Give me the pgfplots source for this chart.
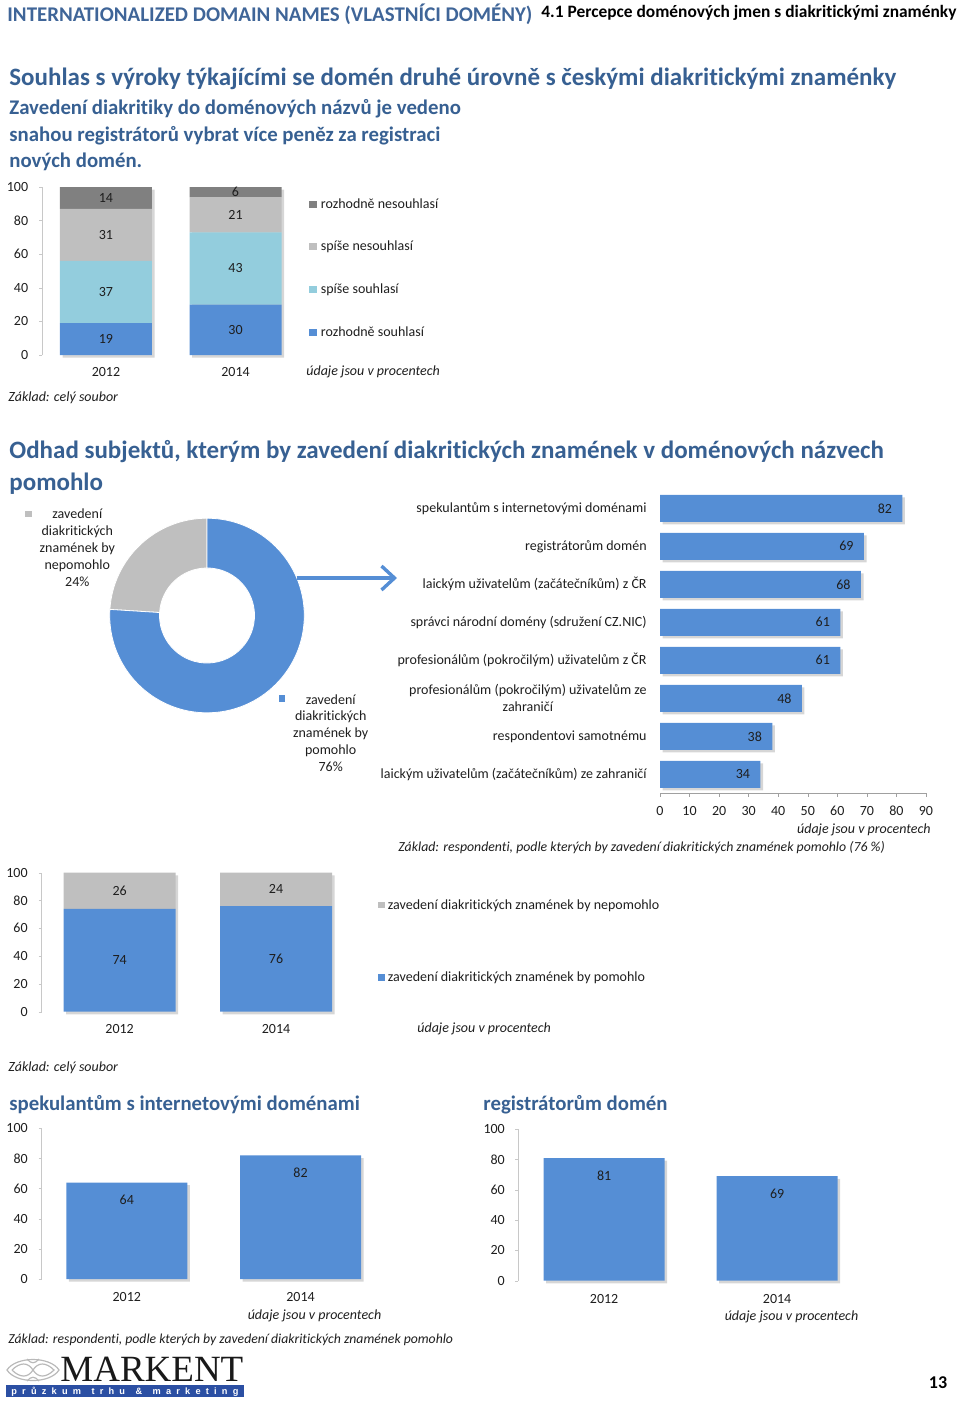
\documentclass[border=0pt]{standalone}
\usepackage{fontspec}
\setmainfont{Carlito}[Ligatures=NoCommon]
\newfontfamily\logoserif{Liberation Serif}
\newfontfamily\logosans{Liberation Sans}
\usepackage{pgfplots}
\pgfplotsset{compat=1.18}
\usepackage{pgfplotstable}
\usetikzlibrary{arrows.meta}

\definecolor{bblue}{HTML}{558ED5}
\definecolor{lblue}{HTML}{93CDDD}
\definecolor{lgray}{HTML}{BFBFBF}
\definecolor{dgray}{HTML}{808080}
\definecolor{tblue}{HTML}{376092}
\definecolor{hblue}{HTML}{3F6598}
\definecolor{axgray}{HTML}{C8C8C8}
\definecolor{axgray2}{HTML}{A0A0A0}
\definecolor{txt}{HTML}{1E1E1E}
\definecolor{logoblue}{HTML}{2B4FA3}

\newcommand\lab{\fontsize{7}{8.5}\selectfont}
\newcommand\labi{\fontsize{7}{8.5}\selectfont\itshape}

\pgfplotsset{
  pg/.style={scale only axis, /pgf/number format/assume math mode=true,
    tick label style={font=\lab, text=txt}, axis line style={-}},
  hid/.style={scale only axis, hide axis},
  shadowbar/.style={fill=black, draw=none, opacity=0.16, bar shift=0pt, xshift=1.3pt, yshift=-1.3pt, forget plot},
}

% ---------- data ----------
\pgfplotstableread{
x  rs  ss  sn  rn
0  19  37  31  14
1  30  43  21  6
}\tabA
\pgfplotstableread{
x  y     l
0  9.5   19
0  37.5  37
0  71.5  31
0  93.5  14
1  15    30
1  51.5  43
1  83.5  21
1  97    6
}\tabAl
\def\vPom{76}
\def\vNep{24}
\pgfplotstableread{
y  v
7  82
6  69
5  68
4  61
3  61
2  48
1  38
0  34
}\tabC
\pgfplotstableread{
x  pom  nep
0  74   26
1  76   24
}\tabD
\pgfplotstableread{
x  y   l
0  37  74
0  87  26
1  38  76
1  88  24
}\tabDl
\pgfplotstableread{
x  v
0  64
1  82
}\tabE
\pgfplotstableread{
x  v
0  81
1  69
}\tabF

\pgfmathsetmacro\aN{90+\vNep*3.6}
\pgfmathsetmacro\aNb{\aN-360}

\begin{document}
\begin{tikzpicture}[x=0.5pt,y=-0.5pt]
\useasboundingbox (0,0) rectangle (960,1403);

% ---------- header ----------
\node[anchor=base west, inner sep=0pt, font=\fontsize{10.45}{12}\selectfont\bfseries, text=hblue] at (7,21) {INTERNATIONALIZED DOMAIN NAMES (VLASTNÍCI DOMÉNY)};
\node[anchor=base west, inner sep=0pt, font=\fontsize{8.7}{10}\selectfont\bfseries, text=black] at (541,17.5) {4.1 Percepce doménových jmen s diakritickými znaménky};

\node[anchor=base west, inner sep=0pt, font=\fontsize{12.5}{15}\selectfont\bfseries, text=tblue] at (9,85) {Souhlas s výroky týkajícími se domén druhé úrovně s českými diakritickými znaménky};
\node[anchor=base west, inner sep=0pt, font=\fontsize{10.4}{12}\selectfont\bfseries, text=tblue] at (9,114.5) {Zavedení diakritiky do doménových názvů je vedeno};
\node[anchor=base west, inner sep=0pt, font=\fontsize{10.4}{12}\selectfont\bfseries, text=tblue] at (9,141) {snahou registrátorů vybrat více peněz za registraci};
\node[anchor=base west, inner sep=0pt, font=\fontsize{10.4}{12}\selectfont\bfseries, text=tblue] at (9,167.5) {nových domén.};

% ---------- chart 1 ----------
\begin{axis}[hid, at={(21pt,-177.5pt)}, width=129pt, height=84pt, xmin=-0.494, xmax=1.498, ymin=0, ymax=100, clip=false]
\addplot[ybar, bar width=46pt, shadowbar] coordinates {(0,100) (1,100)};
\end{axis}
\begin{axis}[pg, at={(21pt,-177.5pt)}, width=129pt, height=84pt,
  xmin=-0.494, xmax=1.498, ymin=0, ymax=100,
  ybar stacked, bar width=46pt,
  axis x line*=bottom, axis y line*=left,
  x axis line style={draw=none}, y axis line style={draw=axgray},
  xtick={0,1}, xticklabels={2012,2014}, ytick={0,20,...,100},
  xtick style={draw=none}, ytick style={draw=axgray},
  tick align=outside, major tick length=1.5pt,
  yticklabel style={anchor=east, inner sep=0pt, xshift=-5.25pt},
  xticklabel style={anchor=base, inner sep=0pt, yshift=-9.1pt}]
\addplot[fill=bblue, draw=none] table[x=x,y=rs]{\tabA};
\addplot[fill=lblue, draw=none] table[x=x,y=ss]{\tabA};
\addplot[fill=lgray, draw=none] table[x=x,y=sn]{\tabA};
\addplot[fill=dgray, draw=none] table[x=x,y=rn]{\tabA};
\end{axis}
\begin{axis}[hid, at={(21pt,-177.5pt)}, width=129pt, height=84pt, xmin=-0.494, xmax=1.498, ymin=0, ymax=100, clip=false]
\addplot[draw=none, mark=none, nodes near coords, point meta=explicit symbolic,
  every node near coord/.append style={anchor=center, inner sep=0pt, font=\lab, text=txt}]
  table[x=x,y=y,meta=l]{\tabAl};
\end{axis}
\fill[dgray] (309.3,200.7) rectangle ++(7.2,6.8);
\fill[lgray] (309.3,243.3) rectangle ++(7.2,6.8);
\fill[lblue] (309.3,286) rectangle ++(7.2,6.8);
\fill[bblue] (309.3,328.7) rectangle ++(7.2,6.8);
\node[anchor=base west, inner sep=0pt, font=\lab, text=txt] at (320.5,208) {rozhodně nesouhlasí};
\node[anchor=base west, inner sep=0pt, font=\lab, text=txt] at (320.5,250.7) {spíše nesouhlasí};
\node[anchor=base west, inner sep=0pt, font=\lab, text=txt] at (320.5,293.3) {spíše souhlasí};
\node[anchor=base west, inner sep=0pt, font=\lab, text=txt] at (320.5,336) {rozhodně souhlasí};
\node[anchor=base west, inner sep=0pt, font=\labi, text=txt] at (306,375.2) {údaje jsou v procentech};
\node[anchor=base west, inner sep=0pt, font=\labi, text=txt] at (8,401.2) {Základ: celý soubor};

% ---------- chart 2 title ----------
\node[anchor=base west, inner sep=0pt, font=\fontsize{12.5}{15}\selectfont\bfseries, text=tblue] at (9,458.5) {Odhad subjektů, kterým by zavedení diakritických znamének v doménových názvech};
\node[anchor=base west, inner sep=0pt, font=\fontsize{12.5}{15}\selectfont\bfseries, text=tblue] at (9,490.5) {pomohlo};

% ---------- donut ----------
\begin{axis}[hid, at={(54.85pt,-356.4pt)}, width=97.3pt, height=97.3pt, xmin=-1, xmax=1, ymin=-1, ymax=1, clip=false]
\filldraw[fill=lgray, draw=white, line width=0.4pt] (axis cs:0,0) ++(90:48.65pt) arc[start angle=90, end angle=\aN, radius=48.65pt] -- ++(\aN:-24.9pt) arc[start angle=\aN, end angle=90, radius=23.75pt] -- cycle;
\filldraw[fill=bblue, draw=white, line width=0.4pt] (axis cs:0,0) ++(90:48.65pt) arc[start angle=90, end angle=\aNb, radius=48.65pt] -- ++(\aNb:-24.9pt) arc[start angle=\aNb, end angle=90, radius=23.75pt] -- cycle;
\end{axis}
\fill[lgray] (25,510.5) rectangle ++(6.6,6.6);
\foreach \yy/\tt in {518/zavedení, 535.3/diakritických, 552.5/znamének by, 569.5/nepomohlo, 586/24\%}
  \node[anchor=base, inner sep=0pt, font=\lab, text=txt] at (77.3,\yy) {\tt};
\fill[bblue] (278.5,695.2) rectangle ++(6.4,6.4);
\foreach \yy/\tt in {704/zavedení, 720.7/diakritických, 737.5/znamének by, 754.2/pomohlo, 771/76\%}
  \node[anchor=base, inner sep=0pt, font=\lab, text=txt] at (330.7,\yy) {\tt};
\draw[bblue, line width=1.7pt, -{Straight Barb[length=6.5pt, width=12pt, line width=1.7pt]}] (297,578) -- (397,578);

% ---------- chart 3 ----------
\begin{axis}[pg, at={(330pt,-396.65pt)}, width=133pt, height=152pt,
  xmin=0, xmax=90, ymin=-0.5, ymax=7.5,
  xbar, bar width=13.5pt,
  axis x line*=bottom, axis y line*=left,
  y axis line style={draw=none}, x axis line style={draw=axgray2},
  xtick={0,10,...,90}, ytick={0,...,7},
  yticklabels={laickým uživatelům (začátečníkům) ze zahraničí, respondentovi samotnému, {profesionálům (pokročilým) uživatelům ze\\zahraničí}, profesionálům (pokročilým) uživatelům z ČR, správci národní domény (sdružení CZ.NIC), laickým uživatelům (začátečníkům) z ČR, registrátorům domén, spekulantům s internetovými doménami},
  ytick style={draw=none}, xtick style={draw=axgray2},
  tick align=outside, major tick length=1.75pt,
  yticklabel style={anchor=east, inner sep=0pt, xshift=-4.75pt, align=center},
  xticklabel style={anchor=base, inner sep=0pt, yshift=-9.3pt},
  clip=false]
\addplot[shadowbar] table[x=v,y=y]{\tabC};
\addplot[fill=bblue, draw=none, bar shift=0pt, nodes near coords, point meta=x,
  every node near coord/.append style={anchor=east, inner sep=0pt, xshift=-5pt, font=\lab, text=txt}]
  table[x=v,y=y]{\tabC};
\end{axis}
\node[anchor=base east, inner sep=0pt, font=\labi, text=txt] at (931,833.2) {údaje jsou v procentech};
\node[anchor=base west, inner sep=0pt, font=\fontsize{6.9}{8.5}\selectfont\itshape, text=txt] at (398,851.2) {Základ: respondenti, podle kterých by zavedení diakritických znamének pomohlo (76 \%)};

% ---------- chart 4 ----------
\begin{axis}[hid, at={(20.75pt,-505.85pt)}, width=156.35pt, height=69.5pt, xmin=-0.4994, xmax=1.5, ymin=0, ymax=100, clip=false]
\addplot[ybar, bar width=56pt, shadowbar] coordinates {(0,100) (1,100)};
\end{axis}
\begin{axis}[pg, at={(20.75pt,-505.85pt)}, width=156.35pt, height=69.5pt,
  xmin=-0.4994, xmax=1.5, ymin=0, ymax=100,
  ybar stacked, bar width=56pt,
  axis x line*=bottom, axis y line*=left,
  x axis line style={draw=none}, y axis line style={draw=axgray},
  xtick={0,1}, xticklabels={2012,2014}, ytick={0,20,...,100},
  xtick style={draw=none}, ytick style={draw=axgray},
  tick align=outside, major tick length=1.5pt,
  yticklabel style={anchor=east, inner sep=0pt, xshift=-5.25pt},
  xticklabel style={anchor=base, inner sep=0pt, yshift=-9.4pt}]
\addplot[fill=bblue, draw=none] table[x=x,y=pom]{\tabD};
\addplot[fill=lgray, draw=none] table[x=x,y=nep]{\tabD};
\end{axis}
\begin{axis}[hid, at={(20.75pt,-505.85pt)}, width=156.35pt, height=69.5pt, xmin=-0.4994, xmax=1.5, ymin=0, ymax=100, clip=false]
\addplot[draw=none, mark=none, nodes near coords, point meta=explicit symbolic,
  every node near coord/.append style={anchor=center, inner sep=0pt, font=\lab, text=txt}]
  table[x=x,y=y,meta=l]{\tabDl};
\end{axis}
\fill[lgray] (378.4,901.7) rectangle ++(6.6,6.6);
\fill[bblue] (378.4,974) rectangle ++(6.6,6.6);
\node[anchor=base west, inner sep=0pt, font=\lab, text=txt] at (387.5,909) {zavedení diakritických znamének by nepomohlo};
\node[anchor=base west, inner sep=0pt, font=\lab, text=txt] at (387.5,981.5) {zavedení diakritických znamének by pomohlo};
\node[anchor=base west, inner sep=0pt, font=\labi, text=txt] at (417,1032.5) {údaje jsou v procentech};
\node[anchor=base west, inner sep=0pt, font=\labi, text=txt] at (8,1071.2) {Základ: celý soubor};

% ---------- chart 5 ----------
\node[anchor=base west, inner sep=0pt, font=\fontsize{10.4}{13}\selectfont\bfseries, text=tblue] at (9,1110.5) {spekulantům s internetovými doménami};
\begin{axis}[pg, at={(20.8pt,-639.5pt)}, width=172.95pt, height=75.35pt,
  xmin=-0.490, xmax=1.5, ymin=0, ymax=100,
  ybar, bar width=60.5pt,
  axis x line*=bottom, axis y line*=left,
  x axis line style={draw=none}, y axis line style={draw=axgray},
  xtick={0,1}, xticklabels={2012,2014}, ytick={0,20,...,100},
  xtick style={draw=none}, ytick style={draw=axgray},
  tick align=outside, major tick length=1.5pt,
  yticklabel style={anchor=east, inner sep=0pt, xshift=-5.25pt},
  xticklabel style={anchor=base, inner sep=0pt, yshift=-9.95pt}, clip=false]
\addplot[shadowbar] table[x=x,y=v]{\tabE};
\addplot[fill=bblue, draw=none, bar shift=0pt, nodes near coords, point meta=y,
  every node near coord/.append style={anchor=north, inner sep=0pt, yshift=-6.05pt, font=\lab, text=txt}]
  table[x=x,y=v]{\tabE};
\end{axis}
\node[anchor=base, inner sep=0pt, font=\labi, text=txt] at (314.5,1319.2) {údaje jsou v procentech};
\node[anchor=base west, inner sep=0pt, font=\fontsize{6.85}{8.5}\selectfont\itshape, text=txt] at (8,1343.2) {Základ: respondenti, podle kterých by zavedení diakritických znamének pomohlo};

% ---------- chart 6 ----------
\node[anchor=base west, inner sep=0pt, font=\fontsize{10.4}{13}\selectfont\bfseries, text=tblue] at (483,1110.5) {registrátorům domén};
\begin{axis}[pg, at={(259pt,-640.35pt)}, width=172.8pt, height=75.7pt,
  xmin=-0.498, xmax=1.5, ymin=0, ymax=100,
  ybar, bar width=60.5pt,
  axis x line*=bottom, axis y line*=left,
  x axis line style={draw=none}, y axis line style={draw=axgray},
  xtick={0,1}, xticklabels={2012,2014}, ytick={0,20,...,100},
  xtick style={draw=none}, ytick style={draw=axgray},
  tick align=outside, major tick length=1.5pt,
  yticklabel style={anchor=east, inner sep=0pt, xshift=-4.9pt},
  xticklabel style={anchor=base, inner sep=0pt, yshift=-10.1pt}, clip=false]
\addplot[shadowbar] table[x=x,y=v]{\tabF};
\addplot[fill=bblue, draw=none, bar shift=0pt, nodes near coords, point meta=y,
  every node near coord/.append style={anchor=north, inner sep=0pt, yshift=-6.4pt, font=\lab, text=txt}]
  table[x=x,y=v]{\tabF};
\end{axis}
\node[anchor=base, inner sep=0pt, font=\labi, text=txt] at (791.5,1320) {údaje jsou v procentech};

% ---------- logo & page number ----------
\begin{scope}[gray!55, line width=0.6pt]
\draw (7,1370) .. controls (16,1356) and (50,1356) .. (59,1370) .. controls (50,1384) and (16,1384) .. (7,1370) -- cycle;
\draw (12,1370) .. controls (20,1362) and (28,1362) .. (33,1370) .. controls (28,1378) and (20,1378) .. (12,1370);
\draw (33,1370) .. controls (38,1362) and (46,1362) .. (54,1370) .. controls (46,1378) and (38,1378) .. (33,1370);
\draw (27,1359) .. controls (31,1364) and (35,1364) .. (39,1359);
\draw (27,1381) .. controls (31,1376) and (35,1376) .. (39,1381);
\end{scope}
\node[anchor=base west, inner sep=0pt, font=\logoserif\fontsize{18.5}{20}\selectfont, text=black!90] at (60,1381.7) {MARKENT};
\fill[logoblue] (6,1385) rectangle (244,1397);
\node[anchor=base west, inner sep=0pt, font=\logosans\fontsize{4.6}{5}\selectfont\bfseries, text=white] at (11,1394.2)
 {\makebox[113.5pt][s]{p\hfill r\hfill ů\hfill z\hfill k\hfill u\hfill m\hfill\hfill t\hfill r\hfill h\hfill u\hfill\hfill \&\hfill\hfill m\hfill a\hfill r\hfill k\hfill e\hfill t\hfill i\hfill n\hfill g}};
\node[anchor=base, inner sep=0pt, font=\fontsize{9}{11}\selectfont\bfseries, text=black] at (938,1388.5) {13};
\end{tikzpicture}
\end{document}
